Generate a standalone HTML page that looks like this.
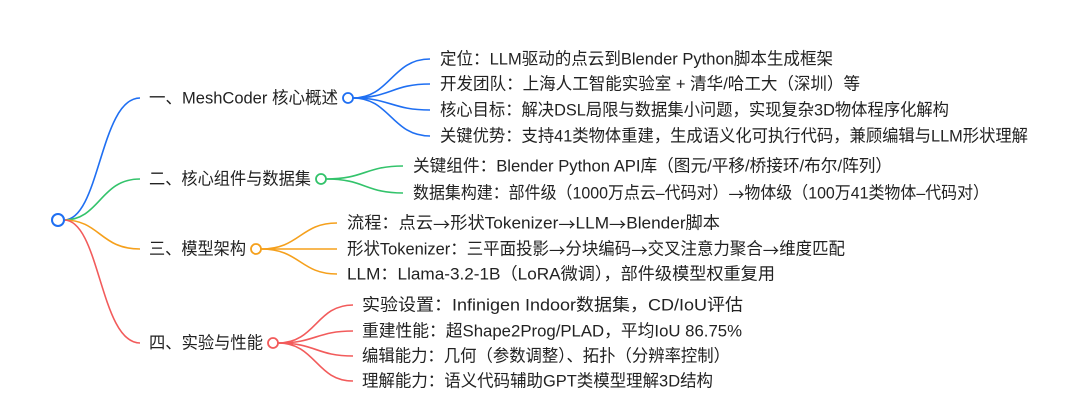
<!DOCTYPE html>
<html><head><meta charset="utf-8"><style>
html,body{margin:0;padding:0;background:#fff;}
svg{display:block;}
text{font-family:"Liberation Sans","Noto Sans CJK SC",sans-serif;font-size:17px;fill:#222;dominant-baseline:central;}
tspan.a{font-family:"Noto Sans CJK SC",sans-serif;}
</style></head><body>
<svg width="1080" height="411" viewBox="0 0 1080 411" fill="none" stroke-width="1.6">
<path d="M64 220 C100 220,100 98,140 98" stroke="#1f6ff2"/>
<path d="M64 220 C100 220,100 179,140 179" stroke="#33c36b"/>
<path d="M64 220 C100 220,100 249,140 249" stroke="#f5a01c"/>
<path d="M64 220 C100 220,100 343,140 343" stroke="#f25b5b"/>
<circle cx="58" cy="220" r="6" fill="#fff" stroke="#1f6ff2" stroke-width="2"/>

<g stroke="#1f6ff2">
<path d="M353 98 C390 98,392 59,430 59"/>
<path d="M353 98 C390 98,392 84,430 84"/>
<path d="M353 98 C390 98,392 110,430 110"/>
<path d="M353 98 C390 98,392 136,430 136"/>
<circle cx="348" cy="98" r="5" fill="#fff" stroke-width="1.8"/>
</g>
<text x="149" y="98" textLength="189" lengthAdjust="spacingAndGlyphs">一、MeshCoder 核心概述</text>
<text x="440" y="59" textLength="393" lengthAdjust="spacingAndGlyphs">定位：LLM驱动的点云到Blender Python脚本生成框架</text>
<text x="440" y="84" textLength="420" lengthAdjust="spacingAndGlyphs">开发团队：上海人工智能实验室 + 清华/哈工大（深圳）等</text>
<text x="440" y="110" textLength="509" lengthAdjust="spacingAndGlyphs">核心目标：解决DSL局限与数据集小问题，实现复杂3D物体程序化解构</text>
<text x="440" y="136" textLength="588" lengthAdjust="spacingAndGlyphs">关键优势：支持41类物体重建，生成语义化可执行代码，兼顾编辑与LLM形状理解</text>

<g stroke="#33c36b">
<path d="M326 179 C365 179,365 166,403 166"/>
<path d="M326 179 C365 179,365 193,403 193"/>
<circle cx="321" cy="179" r="5" fill="#fff" stroke-width="1.8"/>
</g>
<text x="149" y="179" textLength="162" lengthAdjust="spacingAndGlyphs">二、核心组件与数据集</text>
<text x="413" y="166" textLength="479" lengthAdjust="spacingAndGlyphs">关键组件：Blender Python API库（图元/平移/桥接环/布尔/阵列）</text>
<text x="413" y="193" textLength="576" lengthAdjust="spacingAndGlyphs">数据集构建：部件级（1000万点云–代码对）<tspan class="a">→</tspan>物体级（100万41类物体–代码对）</text>

<g stroke="#f5a01c">
<path d="M261 249 C300 249,300 223,337 223"/>
<path d="M261 249 L337 249"/>
<path d="M261 249 C300 249,300 274,337 274"/>
<circle cx="256" cy="249" r="5" fill="#fff" stroke-width="1.8"/>
</g>
<text x="149" y="249" textLength="97" lengthAdjust="spacingAndGlyphs">三、模型架构</text>
<text x="347" y="223" textLength="373" lengthAdjust="spacingAndGlyphs">流程：点云<tspan class="a">→</tspan>形状Tokenizer<tspan class="a">→</tspan>LLM<tspan class="a">→</tspan>Blender脚本</text>
<text x="347" y="249" textLength="498" lengthAdjust="spacingAndGlyphs">形状Tokenizer：三平面投影<tspan class="a">→</tspan>分块编码<tspan class="a">→</tspan>交叉注意力聚合<tspan class="a">→</tspan>维度匹配</text>
<text x="347" y="274" textLength="428" lengthAdjust="spacingAndGlyphs">LLM：Llama-3.2-1B（LoRA微调），部件级模型权重复用</text>

<g stroke="#f25b5b">
<path d="M278 343 C316 343,316 305,353 305"/>
<path d="M278 343 C316 343,316 331,353 331"/>
<path d="M278 343 C316 343,316 356,353 356"/>
<path d="M278 343 C316 343,316 381,353 381"/>
<circle cx="273" cy="343" r="5" fill="#fff" stroke-width="1.8"/>
</g>
<text x="149" y="343" textLength="114" lengthAdjust="spacingAndGlyphs">四、实验与性能</text>
<text x="362" y="305" textLength="381" lengthAdjust="spacingAndGlyphs">实验设置：Infinigen Indoor数据集，CD/IoU评估</text>
<text x="362" y="331" textLength="380" lengthAdjust="spacingAndGlyphs">重建性能：超Shape2Prog/PLAD，平均IoU 86.75%</text>
<text x="362" y="356" textLength="368" lengthAdjust="spacingAndGlyphs">编辑能力：几何（参数调整）、拓扑（分辨率控制）</text>
<text x="362" y="381" textLength="351" lengthAdjust="spacingAndGlyphs">理解能力：语义代码辅助GPT类模型理解3D结构</text>
</svg>
</body></html>
